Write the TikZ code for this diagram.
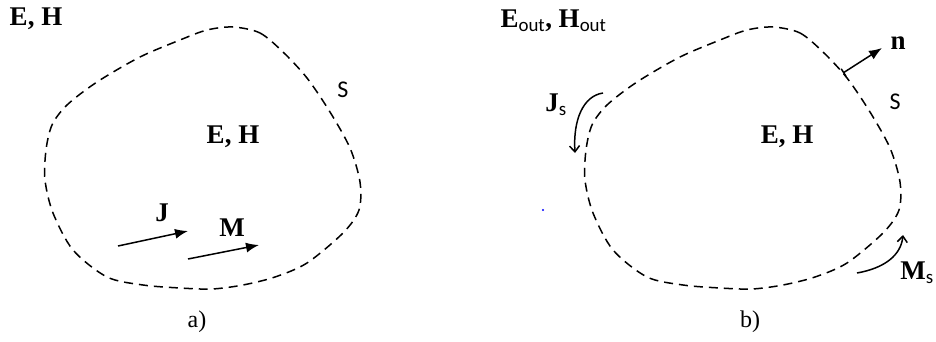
\documentclass[tikz,border=0pt]{standalone}
\usepackage{fontspec}
\setmainfont{Liberation Serif}
\setsansfont{Carlito}
\usetikzlibrary{arrows.meta}
\newcommand{\lo}[1]{\textsubscript{\sffamily\mdseries #1}}

\begin{document}
\begin{tikzpicture}[x=1pt,y=-1pt,
  lbl/.style={font=\fontsize{27}{30}\selectfont\bfseries},
  tag/.style={font=\fontsize{24}{28}\selectfont},
  surf/.style={font=\fontsize{24}{28}\selectfont\sffamily},
  bound/.style={dash pattern=on 9pt off 6pt,line width=1.5pt},
  vec/.style={line width=1.5pt,-{Latex[length=13pt,width=10pt]}},
  curr/.style={line width=1.5pt,-{Straight Barb[length=6pt,width=10pt]}}]
\useasboundingbox (0,0) rectangle (936,342);
\foreach \dx in {0,540}
  \draw[bound,xshift=\dx] plot[smooth cycle] coordinates {
    (233,27) (260,33) (283,52) (307,78) (330,112) (350,148) (360,182)
    (359,210) (343,233) (307,263) (275,277) (243,285) (212,289) (180,288)
    (143,285) (107,277) (73,250) (53,213) (45,180) (46,150) (52,125)
    (67,105) (97,82) (140,57) (180,40) (207,30)};
\node[lbl] (outa) at (36,19) {E, H};
\node[lbl] (ina) at (233,137) {E, H};
\node[surf] (sa) at (343,90) {S};
\node[lbl] (jl) at (162,213) {J};
\node[lbl] (ml) at (232,228) {M};
\coordinate (j0) at (118,246);
\coordinate (j1) at (188,231);
\coordinate (m0) at (188,259);
\coordinate (m1) at (259,245);
\draw[vec] (j0) -- (j1);
\draw[vec] (m0) -- (m1);
\node[tag] (capa) at (197,322) {a)};
\node[lbl,anchor=west] (outb) at (497,21) {E\lo{out}, H\lo{out}};
\node[lbl] (inb) at (787,137) {E, H};
\node[surf] (sb) at (895,102) {S};
\node[lbl] (nl) at (898,43) {n};
\coordinate (n0) at (843,73);
\coordinate (n1) at (882,48);
\draw[vec,{Bar[width=9pt]}-{Latex[length=13pt,width=10pt]}] (n0) -- (n1);
\node[lbl] (jsl) at (556,105) {J\lo{s}};
\coordinate (js0) at (603,93);
\coordinate (js1) at (575,153);
\draw[curr] (js0) .. controls (583,96) and (573,120) .. (js1);
\node[lbl] (msl) at (917,273) {M\lo{s}};
\coordinate (ms0) at (857,273);
\coordinate (ms1) at (903,235);
\draw[curr] (ms0) .. controls (885,268) and (901,255) .. (ms1);
\fill[blue] (543,210) circle (1.2pt);
\node[tag] (capb) at (750,322) {b)};
\end{tikzpicture}
\end{document}
